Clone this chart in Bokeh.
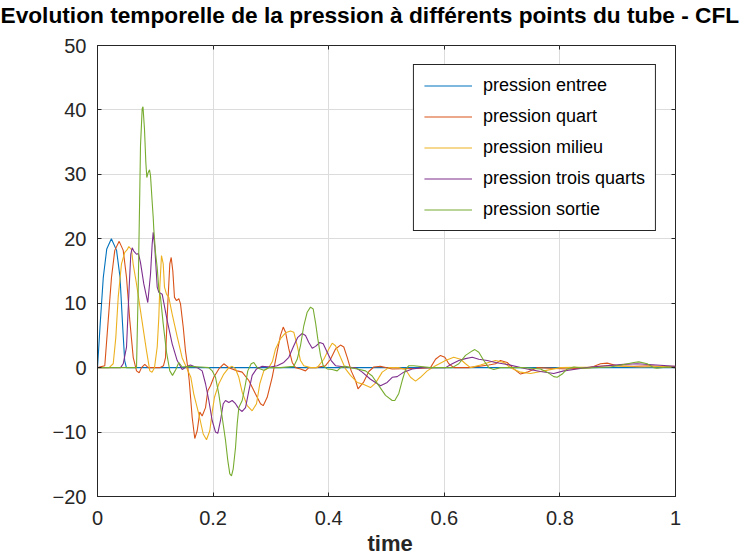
from bokeh.plotting import figure
from bokeh.models import Legend, LegendItem, FixedTicker, LinearAxis, Title
from bokeh.embed import file_html
from bokeh.resources import INLINE

# pressure at five stations of the tube
t_entree = [0, 0.005, 0.010, 0.016, 0.024, 0.033, 0.039, 0.043, 0.047, 0.050, 1.0]
p_entree = [0, 7.3, 14.0, 18.4, 20.0, 18.2, 14.0, 7.3, 1.1, 0, 0]

t_quart = [0, 0.0126, 0.0185, 0.0242, 0.0299, 0.0375, 0.0445, 0.0502, 0.0559, 0.0618,
           0.0675, 0.0721, 0.0761, 0.0818, 0.0877, 0.1078, 0.1142, 0.1176, 0.1216, 0.1251,
           0.1275, 0.1303, 0.1332, 0.1367, 0.1407, 0.1436, 0.1483, 0.1522, 0.1562, 0.1587,
           0.1638, 0.1683, 0.1725, 0.1770, 0.1811, 0.1869, 0.1908, 0.1955, 0.2012, 0.2099,
           0.2185, 0.2272, 0.2417, 0.2503, 0.2618, 0.2734, 0.2820, 0.2867, 0.2936, 0.3022,
           0.3109, 0.3166, 0.3213, 0.3253, 0.3310, 0.3369, 0.3426, 0.3512, 0.3599, 0.3656,
           0.3772, 0.3945, 0.4031, 0.4118, 0.4204, 0.4261, 0.4320, 0.4389, 0.4464, 0.4507,
           0.4607, 0.4694, 0.4780, 0.4896, 0.5099, 0.5618, 0.5761, 0.5848, 0.5934, 0.6009,
           0.6078, 0.6164, 0.6424, 0.6770, 0.6886, 0.6972, 0.7088, 0.7202, 0.7318, 0.7434,
           0.7607, 0.8126, 0.8529, 0.8702, 0.8818, 0.8991, 0.9279, 0.9567, 1.0]
p_quart = [0, 0.3, 7.3, 14.0, 18.2, 19.6, 18.2, 14.0, 7.3, 1.6,
           -0.5, -0.8, 0.0, 0.5, 0.0, 0.0, 0.3, 1.5, 9.9, 16.1,
           17.1, 15.0, 10.9, 10.4, 10.7, 9.9, 6.3, 2.6, 0.0, -2.0,
           -7.7, -11.0, -9.8, -6.9, -7.5, -6.2, -3.6, -2.8, -1.5, -0.2,
           0.6, 0.0, -0.5, -0.7, -2.0, -4.1, -5.6, -5.9, -4.6, -1.5,
           2.5, 5.0, 6.3, 5.5, 2.9, 0.8, 0.0, -0.2, -0.5, 0.0,
           0.0, 0.3, 1.3, 2.9, 3.5, 3.2, 1.6, -0.5, -2.0, -3.3,
           -2.2, -0.6, 0.1, 0.2, -0.2, -0.1, 0.0, 1.3, 1.9, 1.6,
           0.6, 0.0, 0.0, 0.4, 0.6, 1.1, 0.8, -0.2, -1.0, -0.7,
           0.0, -0.2, 0.0, 0.6, 0.7, 0.3, 0.2, 0.3, 0.0]

t_milieu = [0, 0.0200, 0.0272, 0.0317, 0.0358, 0.0415, 0.0472, 0.0514, 0.0542, 0.0588,
            0.0618, 0.0675, 0.0761, 0.0848, 0.0905, 0.0943, 0.0986, 0.1033, 0.1061, 0.1078,
            0.1107, 0.1137, 0.1159, 0.1194, 0.1234, 0.1292, 0.1379, 0.1465, 0.1615, 0.1666,
            0.1753, 0.1829, 0.1886, 0.1943, 0.1984, 0.2024, 0.2099, 0.2185, 0.2272, 0.2330,
            0.2388, 0.2445, 0.2503, 0.2590, 0.2676, 0.2751, 0.2808, 0.2877, 0.2964, 0.3028,
            0.3080, 0.3166, 0.3253, 0.3339, 0.3396, 0.3455, 0.3512, 0.3569, 0.3685, 0.3801,
            0.3915, 0.4002, 0.4061, 0.4118, 0.4204, 0.4291, 0.4377, 0.4493, 0.4607, 0.4723,
            0.4810, 0.4926, 0.5040, 0.5208, 0.5329, 0.5415, 0.5502, 0.5588, 0.5704, 0.5848,
            0.6021, 0.6164, 0.6280, 0.6367, 0.6453, 0.6626, 0.6765, 0.6886, 0.7029, 0.7145,
            0.7318, 0.7491, 0.7722, 0.8010, 0.8529, 0.8818, 0.9394, 1.0]
p_milieu = [0, 0, 0.6, 4.7, 10.9, 16.1, 17.9, 18.3, 18.8, 18.3,
            16.0, 13.0, 7.8, 2.6, -0.5, -0.7, 0.0, 3.2, 7.8, 12.5,
            17.4, 16.1, 12.5, 11.4, 10.9, 8.3, 4.8, 1.5, -1.5, -4.1,
            -7.2, -10.3, -11.2, -9.8, -6.9, -4.6, -2.5, -1.0, 0.0, 0.2,
            -0.2, -1.5, -3.8, -5.9, -6.7, -5.6, -2.5, -0.5, 0.0, 1.0,
            2.9, 4.5, 5.4, 5.7, 5.5, 3.4, 1.1, 0.3, 0.0, 0.0,
            1.3, 2.9, 3.8, 3.4, 1.6, -0.2, -1.2, -2.3, -2.6, -3.1,
            -2.4, -0.7, 0.0, 0.0, -0.3, -1.5, -2.1, -1.5, -0.5, 0.3,
            1.1, 1.6, 1.3, 0.6, 0.0, 0.4, 0.8, 1.1, 0.8, 0.0,
            -0.7, -0.9, -0.5, 0.0, 0.1, 0.3, 0.1, 0.2]

t_trois_quarts = [0, 0.0400, 0.0445, 0.0502, 0.0548, 0.0576, 0.0600, 0.0628, 0.0675, 0.0709,
                  0.0744, 0.0801, 0.0870, 0.0917, 0.0946, 0.0964, 0.0991, 0.1033, 0.1061, 0.1119,
                  0.1206, 0.1292, 0.1379, 0.1465, 0.1552, 0.1609, 0.1725, 0.1811, 0.1869, 0.1926,
                  0.1984, 0.2042, 0.2081, 0.2128, 0.2175, 0.2215, 0.2272, 0.2330, 0.2388, 0.2445,
                  0.2503, 0.2561, 0.2618, 0.2676, 0.2751, 0.2849, 0.2993, 0.3109, 0.3223, 0.3310,
                  0.3396, 0.3465, 0.3541, 0.3599, 0.3656, 0.3715, 0.3772, 0.3846, 0.3905, 0.3974,
                  0.4043, 0.4118, 0.4291, 0.4407, 0.4464, 0.4580, 0.4723, 0.4896, 0.5012, 0.5099,
                  0.5185, 0.5299, 0.5445, 0.5618, 0.6021, 0.6137, 0.6251, 0.6367, 0.6483, 0.6597,
                  0.6742, 0.6886, 0.7088, 0.7434, 0.7664, 0.7894, 0.8067, 0.8299, 0.8529, 0.9106,
                  0.9337, 0.9671, 1.0]
p_trois_quarts = [0, 0, 0.6, 3.2, 12.5, 17.6, 18.6, 18.1, 17.6, 17.7,
                  16.3, 13.0, 10.1, 14.5, 19.2, 21.0, 18.7, 12.5, 11.7, 11.4,
                  7.3, 3.7, 1.1, -0.3, 0.2, 0.4, 0.0, -0.5, -2.5, -5.1,
                  -8.2, -10.0, -10.2, -8.2, -5.6, -5.1, -5.4, -5.1, -5.6, -6.4,
                  -6.8, -6.2, -3.6, -1.2, -0.2, 0.2, 0.1, 0.3, 0.8, 1.6,
                  3.4, 4.7, 5.3, 5.0, 3.9, 3.0, 3.3, 3.9, 3.7, 2.4,
                  1.1, 0.3, 0.1, 0.0, 0.0, -0.7, -1.8, -2.8, -2.3, -1.5,
                  -1.4, -0.7, -0.2, 0.0, 0.0, 0.6, 1.1, 1.4, 1.6, 1.3,
                  1.1, 0.8, 0.5, -0.2, -0.6, -0.9, -0.5, -0.2, 0.1, 0.5,
                  0.6, 0.4, 0.2]

t_sortie = [0, 0.0600, 0.0675, 0.0704, 0.0718, 0.0732, 0.0744, 0.0761, 0.0773, 0.0787,
            0.0813, 0.0836, 0.0853, 0.0877, 0.0900, 0.0917, 0.0946, 0.0964, 0.0974, 0.1003,
            0.1033, 0.1061, 0.1090, 0.1137, 0.1194, 0.1251, 0.1298, 0.1355, 0.1407, 0.1465,
            0.1580, 0.1782, 0.1926, 0.1984, 0.2042, 0.2099, 0.2157, 0.2215, 0.2254, 0.2289,
            0.2318, 0.2348, 0.2388, 0.2417, 0.2445, 0.2503, 0.2561, 0.2600, 0.2659, 0.2704,
            0.2763, 0.2820, 0.2877, 0.2964, 0.3166, 0.3396, 0.3455, 0.3512, 0.3569, 0.3628,
            0.3685, 0.3732, 0.3772, 0.3811, 0.3858, 0.3905, 0.3974, 0.4061, 0.4147, 0.4204,
            0.4291, 0.4377, 0.4493, 0.4637, 0.4753, 0.4867, 0.4983, 0.5099, 0.5144, 0.5213,
            0.5272, 0.5329, 0.5386, 0.5472, 0.5761, 0.6137, 0.6251, 0.6367, 0.6483, 0.6528,
            0.6597, 0.6683, 0.6770, 0.6856, 0.6972, 0.7375, 0.7664, 0.7780, 0.7894, 0.7953,
            0.8040, 0.8126, 0.8241, 0.8413, 0.8875, 0.9106, 0.9279, 0.9365, 0.9510, 0.9624,
            0.9683, 0.9856, 1.0]
p_sortie = [0, 0, 0, 12.0, 20.0, 27.5, 34.5, 37.8, 40.2, 40.5,
            37.0, 31.9, 29.5, 30.3, 30.7, 29.8, 25.7, 23.3, 21.5, 17.9,
            15.5, 12.2, 10.9, 6.8, 2.4, -0.5, -1.2, -0.3, 0.8, 0.1,
            0.2, 0.1, 0.0, -0.5, -1.5, -4.1, -7.7, -11.3, -14.4, -16.5,
            -16.8, -15.7, -12.4, -8.7, -6.2, -5.1, -2.5, -0.5, 0.6, 0.8,
            0.0, -0.2, -0.4, 0.0, 0.0, 0.2, 1.3, 3.4, 6.5, 8.6,
            9.4, 9.1, 7.0, 4.5, 1.9, 0.3, -0.2, -0.3, -0.5, 0.0,
            0.2, 0.0, -0.2, -0.5, -1.3, -2.8, -4.3, -5.1, -5.1, -4.0,
            -2.0, -0.3, 0.3, 0.3, 0.0, 0.0, 0.6, 1.9, 2.6, 2.8,
            2.4, 1.1, 0.0, -0.3, 0.0, 0.0, -0.2, -0.7, -1.4, -1.5,
            -1.0, -0.2, 0.1, -0.1, 0.1, 0.5, 0.8, 0.9, 0.6, 0.0,
            -0.1, 0.1, 0.0]

x_ticks = [0, 0.2, 0.4, 0.6, 0.8, 1]
x_tick_labels = ["0", "0.2", "0.4", "0.6", "0.8", "1"]
y_ticks = [-20, -10, 0, 10, 20, 30, 40, 50]

series = [
    ("pression entree", t_entree, p_entree, "#0072BD"),
    ("pression quart", t_quart, p_quart, "#D95319"),
    ("pression milieu", t_milieu, p_milieu, "#EDB120"),
    ("pression trois quarts", t_trois_quarts, p_trois_quarts, "#7E2F8E"),
    ("pression sortie", t_sortie, p_sortie, "#77AC30"),
]

title_text = "Evolution temporelle de la pression à différents points du tube - CFL"
xlabel_text = "time"

font = "Liberation Sans"
ink = "#262626"

p = figure(width=746, height=557, x_range=(0, 1), y_range=(-20, 50),
           output_backend="svg", toolbar_location=None, title_location=None,
           min_border_left=97, min_border_right=71,
           min_border_top=45, min_border_bottom=61)
p.background_fill_color = "white"
p.border_fill_color = "white"
p.outline_line_color = ink
p.outline_line_width = 1

p.xaxis.ticker = FixedTicker(ticks=x_ticks)
p.xaxis.major_label_overrides = dict(zip(x_ticks, x_tick_labels))
p.yaxis.ticker = FixedTicker(ticks=y_ticks)
for ax in (p.xaxis, p.yaxis):
    ax.axis_line_color = ink
    ax.major_tick_line_color = ink
    ax.major_tick_in = 4
    ax.major_tick_out = 0
    ax.minor_tick_line_color = None
    ax.major_label_text_font = font
    ax.major_label_text_font_size = "20px"
    ax.major_label_text_color = ink
p.yaxis.major_label_standoff = 11
p.xaxis.major_label_standoff = 14

# mirrored ticks on the top and right edges; their labels are not painted
for side, ticks in (("above", x_ticks), ("right", y_ticks)):
    mirror = LinearAxis(ticker=FixedTicker(ticks=ticks), axis_line_color=None,
                        major_tick_line_color=ink, major_tick_in=4, major_tick_out=0,
                        minor_tick_line_color=None, major_label_text_color=None,
                        major_label_text_font=font, major_label_text_font_size="15px",
                        major_label_standoff=0)
    p.add_layout(mirror, side)

# bottom padding lifts the title away from the frame, as in the reference
p.add_layout(Title(text=title_text, align="left", offset=-97, vertical_align="top",
                   standoff=0, padding=dict(left=0, right=0, top=0, bottom=16),
                   text_font=font, text_font_size="22.7px",
                   text_font_style="bold", text_color="black"), "above")
p.add_layout(Title(text=xlabel_text, align="left", offset=270, vertical_align="bottom",
                   standoff=3, text_font=font, text_font_size="22px",
                   text_font_style="bold", text_color=ink), "below")

p.xgrid.ticker = FixedTicker(ticks=x_ticks)
p.ygrid.ticker = FixedTicker(ticks=y_ticks)
p.grid.grid_line_color = "#dcdcdc"
p.grid.grid_line_width = 1

items = []
for name, t, v, color in series:
    r = p.line(t, v, line_color=color, line_width=1.1)
    items.append(LegendItem(label=name, renderers=[r]))

legend = Legend(items=items, location="top_right", margin=19, padding=10, spacing=10,
                glyph_width=48, glyph_height=21, label_height=21, label_standoff=11,
                label_text_font=font, label_text_font_size="18px", label_text_color="black",
                border_line_color=ink, border_line_width=1, border_line_alpha=1,
                background_fill_color="white", background_fill_alpha=1)
p.add_layout(legend)

open("out.html", "w").write(file_html(p, INLINE))
